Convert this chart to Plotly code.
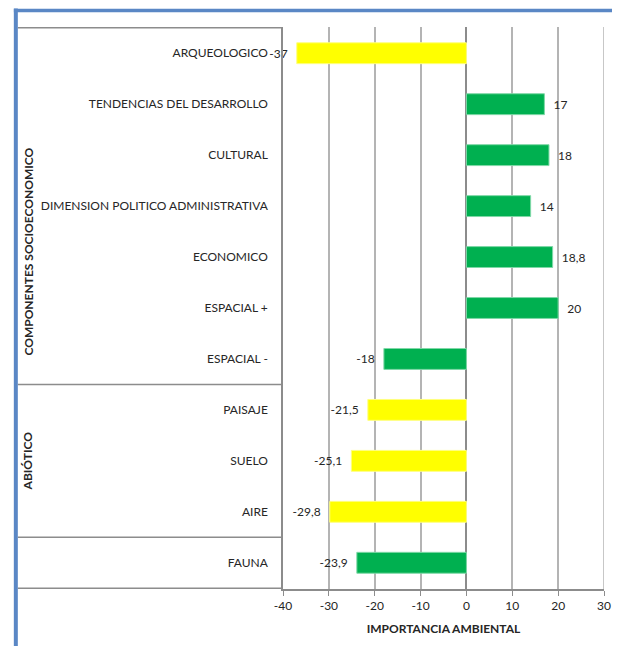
import plotly.graph_objects as go

categories = ["ARQUEOLOGICO", "TENDENCIAS DEL DESARROLLO", "CULTURAL",
              "DIMENSION POLITICO ADMINISTRATIVA", "ECONOMICO", "ESPACIAL +",
              "ESPACIAL -", "PAISAJE", "SUELO", "AIRE", "FAUNA"]
values = [-37, 17, 18, 14, 18.8, 20, -18, -21.5, -25.1, -29.8, -23.9]
bar_colors = ["#FFFF00", "#00B050", "#00B050", "#00B050", "#00B050", "#00B050",
              "#00B050", "#FFFF00", "#FFFF00", "#FFFF00", "#00B050"]
edge_colors = ["#FFFF80" if c == "#FFFF00" else "#7FD8A7" for c in bar_colors]
group_labels = ["COMPONENTES SOCIOECONOMICO", "ABIÓTICO"]
x_title = "IMPORTANCIA AMBIENTAL"
x_ticks = [-40, -30, -20, -10, 0, 10, 20, 30]


def fmt(v):
    s = str(int(v)) if float(v).is_integer() else str(v).replace(".", ",")
    pad = "\u00a0\u00a0"
    return pad + s if v > 0 else s + pad


FONT = "Lato, 'Open Sans', sans-serif"
TXT = "#262626"

fig = go.Figure()
fig.add_trace(go.Bar(
    x=values, y=categories, orientation="h",
    marker=dict(color=bar_colors, line=dict(color=edge_colors, width=1)),
    width=0.41,
    text=[fmt(v) for v in values], textposition="outside",
    textfont=dict(family=FONT, size=12, color=TXT),
    cliponaxis=False, showlegend=False, hoverinfo="x+y",
))

# page body has an 8px margin; figure coords = screen coords - 8
OFF = 8
W, H = 604, 638
L, R, T, B = 275, 1, 19, 57
pw, ph = W - L - R, H - T - B


def px_x(px):
    return (px - OFF - L) / pw


def px_y(py):
    return (H - B - (py - OFF)) / ph


shapes = []
for yb in [-0.5, 6.5, 9.5, 10.5]:
    shapes.append(dict(type="line", xref="paper", yref="y", x0=px_x(12), x1=0,
                       y0=yb, y1=yb, line=dict(color="#8C8C8C", width=1.5)))
shapes.append(dict(type="line", xref="x", yref="paper", x0=x_ticks[-1], x1=x_ticks[-1],
                   y0=0, y1=1, line=dict(color="#B4B4B4", width=1.5), layer="below"))
shapes.append(dict(type="line", xref="paper", yref="paper", x0=px_x(10), x1=px_x(10),
                   y0=px_y(8.5), y1=px_y(660), line=dict(color="#5A87C5", width=4)))
shapes.append(dict(type="line", xref="paper", yref="paper", x0=px_x(8), x1=px_x(630),
                   y0=px_y(10.5), y1=px_y(10.5), line=dict(color="#5A87C5", width=3.5)))

annotations = [
    dict(text="<b>" + group_labels[0] + "</b>", xref="paper", yref="paper",
         x=px_x(22), y=px_y(252), textangle=-90, showarrow=False,
         xanchor="center", yanchor="middle",
         font=dict(family=FONT, size=12, color=TXT)),
    dict(text="<b>" + group_labels[1] + "</b>", xref="paper", yref="y",
         x=px_x(22), y=8, textangle=-90, showarrow=False,
         xanchor="center", yanchor="middle",
         font=dict(family=FONT, size=12, color=TXT)),
]

fig.update_layout(
    width=W, height=H,
    margin=dict(l=L, r=R, t=T, b=B),
    paper_bgcolor="white", plot_bgcolor="white",
    font=dict(family=FONT, size=12, color=TXT),
    shapes=shapes, annotations=annotations,
)
fig.update_xaxes(
    range=[-40, 30], tickvals=x_ticks, ticktext=[str(t) for t in x_ticks],
    showgrid=True, gridcolor="#B4B4B4", gridwidth=1.5,
    zeroline=True, zerolinecolor="#8C8C8C", zerolinewidth=1.5,
    showline=True, linecolor="#8C8C8C", linewidth=1.5,
    ticks="outside", ticklen=5, tickcolor="#8C8C8C",
    ticklabeloverflow="allow",
    tickfont=dict(family=FONT, size=12, color=TXT),
    title=dict(text="<b>" + x_title + "</b>", standoff=12,
               font=dict(family=FONT, size=12, color=TXT)),
)
fig.update_yaxes(
    categoryorder="array", categoryarray=categories, autorange="reversed",
    showgrid=False, showline=True, linecolor="#8C8C8C", linewidth=1.5, mirror=False,
    ticks="", ticklabelstandoff=11,
    tickfont=dict(family=FONT, size=12, color=TXT),
)

fig.write_html("out.html")
